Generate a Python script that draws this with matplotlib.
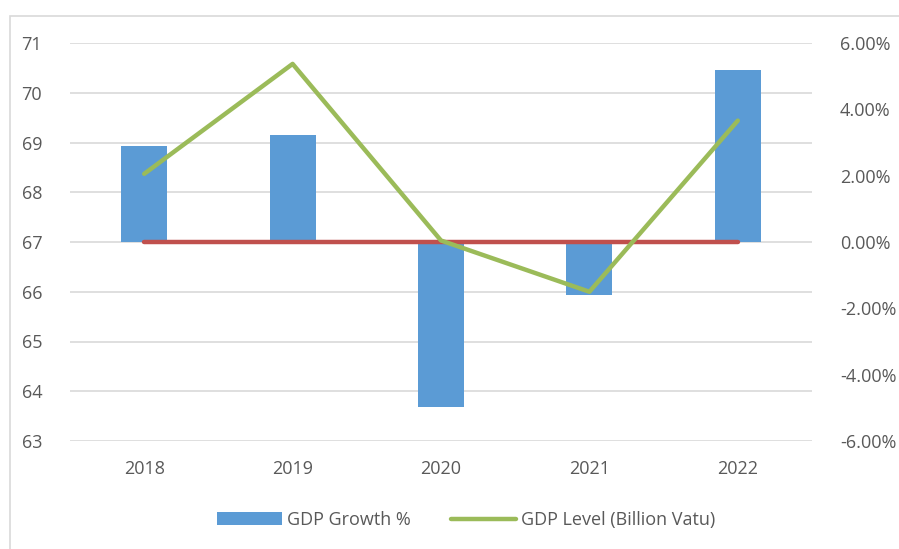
import matplotlib as mpl
mpl.use('Agg')
import matplotlib.pyplot as plt
from matplotlib.patches import Rectangle
from matplotlib.ticker import FuncFormatter

mpl.rcParams['font.family'] = ['Open Sans', 'DejaVu Sans']
mpl.rcParams['font.size'] = 13

years = ["2018", "2019", "2020", "2021", "2022"]
gdp_growth = [2.90, 3.23, -4.98, -1.60, 5.19]          # %
gdp_level = [68.37, 70.58, 67.03, 66.00, 69.44]         # billion vatu
zero_line = [0, 0, 0, 0, 0]

blue = "#5B9BD5"
green = "#9BBB59"
red = "#C0504D"
grey_txt = "#595959"
grid_c = "#D9D9D9"

fig = plt.figure(figsize=(8.99, 5.49), dpi=100)
fig.patches.append(Rectangle((10/899, -0.1), 1.2, 1 - 16/549 + 0.1,
                             transform=fig.transFigure, fill=False,
                             edgecolor=grid_c, linewidth=1.2))

ax = fig.add_axes([70/899, 1 - 441/549, 742/899, 398/549])
ax2 = ax.twinx()

x = list(range(len(years)))

# right axis: growth bars and zero line
bars = ax2.bar(x, gdp_growth, width=0.31, color=blue, zorder=2)
ax2.plot(x, zero_line, color=red, linewidth=3.2, solid_capstyle='round', zorder=3)
ax2.set_ylim(-6, 6)
ax2.set_yticks([-6, -4, -2, 0, 2, 4, 6])
ax2.yaxis.set_major_formatter(FuncFormatter(lambda v, p: "%.2f%%" % v))

# left axis: level line (drawn on ax2 so it sits above the bars)
ax.set_ylim(63, 71)
ax.set_yticks(range(63, 72))
ax.set_xlim(-0.5, 4.5)
ax.set_xticks(x)
ax.set_xticklabels(years)
ax.yaxis.grid(True, color=grid_c, linewidth=1.2)
ax.set_axisbelow(True)

lvl, = ax2.plot(x, [(v - 67) * 1.5 for v in gdp_level], color=green, linewidth=3.2,
                solid_capstyle='round', zorder=4)

for a in (ax, ax2):
    for s in a.spines.values():
        s.set_visible(False)
    a.tick_params(length=0, colors=grey_txt, labelsize=13)
ax.tick_params(axis='y', pad=20)
ax2.tick_params(axis='y', pad=20)
ax.tick_params(axis='x', pad=14)

fig.legend([bars, lvl], ["GDP Growth %", "GDP Level (Billion Vatu)"],
           loc='center', bbox_to_anchor=(466/899, 1 - 520/549), ncol=2,
           frameon=False, fontsize=13, labelcolor=grey_txt,
           handlelength=3.6, columnspacing=2.2, handletextpad=0.3)

fig.savefig("out.png", dpi=100)
